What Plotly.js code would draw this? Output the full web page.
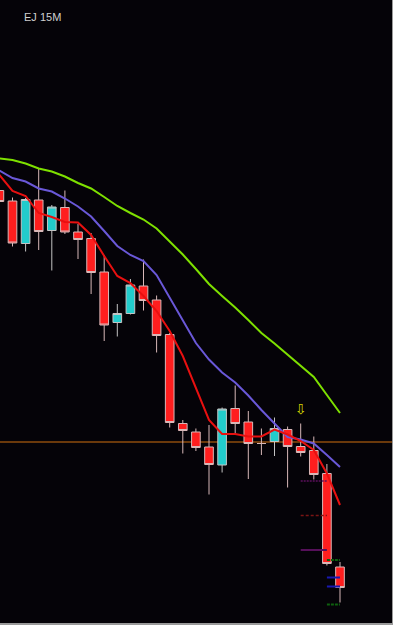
<!DOCTYPE html>
<html>
<head>
<meta charset="utf-8">
<script src="https://cdn.plot.ly/plotly-3.0.1.min.js"></script>
<style>
  html, body { margin: 0; padding: 0; background: #000; }
  #chart { width: 393px; height: 625px; }
</style>
</head>
<body>
<div id="chart"></div>
<script>
// EJ (EUR/JPY) 15-minute candles
const times = ["09:00","09:15","09:30","09:45","10:00","10:15","10:30","10:45","11:00","11:15",
               "11:30","11:45","12:00","12:15","12:30","12:45","13:00","13:15","13:30","13:45",
               "14:00","14:15","14:30","14:45","15:00","15:15","15:30"];

const openP  = [130.119,130.098,130.013,130.100,130.039,130.085,130.036,130.023,129.956,129.855,
                129.873,129.928,129.900,129.831,129.653,129.636,129.606,129.570,129.683,129.656,
                129.613,129.617,129.641,129.607,129.599,129.553,129.366];
const highP  = [130.124,130.105,130.104,130.162,130.090,130.119,130.052,130.034,129.990,129.892,
                129.942,129.981,129.909,129.834,129.660,129.643,129.650,129.685,129.729,129.678,
                129.643,129.665,129.647,129.653,129.627,129.572,129.376];
const lowP   = [130.092,130.007,129.997,130.000,129.959,130.032,129.982,129.912,129.818,129.827,
                129.871,129.879,129.795,129.645,129.593,129.598,129.511,129.555,129.633,129.542,
                129.590,129.588,129.525,129.587,129.541,129.369,129.295];
const closeP = [130.097,130.014,130.101,130.037,130.086,130.036,130.021,129.955,129.850,129.873,
                129.930,129.899,129.829,129.655,129.639,129.605,129.571,129.682,129.653,129.613,
                129.613,129.643,129.607,129.595,129.551,129.373,129.325];

// moving averages
const maFast = [130.150,130.118,130.108,130.074,130.066,130.056,130.055,130.030,129.988,129.948,
                129.934,129.908,129.878,129.838,129.788,129.723,129.660,129.632,129.632,129.627,
                129.627,129.641,129.631,129.618,129.600,129.553,129.490];
const maMid  = [130.159,130.144,130.137,130.123,130.117,130.103,130.087,130.067,130.038,130.008,
                129.990,129.978,129.950,129.905,129.860,129.814,129.781,129.755,129.735,129.709,
                129.680,129.652,129.626,129.621,129.613,129.590,129.566];
const maSlow = [130.183,130.180,130.173,130.163,130.157,130.147,130.134,130.123,130.106,130.088,
                130.074,130.061,130.043,130.018,129.991,129.962,129.932,129.908,129.885,129.860,
                129.834,129.813,129.791,129.769,129.746,129.710,129.674];

// horizontal level
const levelPrice = 129.616;

// signal arrow
const arrowTime = "14:45";
const arrowPrice = 129.680;

// short pivot levels
const pivotA_times = ["14:45","15:15"];
const pivotA_purple1 = 129.538;
const pivotA_red = 129.469;
const pivotA_purple2 = 129.400;
const pivotB_times = ["15:15","15:30"];
const pivotB_green1 = 129.380;
const pivotB_blue1 = 129.345;
const pivotB_blue2 = 129.327;
const pivotB_green2 = 129.291;

function hline(xs, p, color, dash, width) {
  return { type: 'scatter', mode: 'lines', x: xs, y: xs.map(() => p),
           line: { color: color, width: width || 1, dash: dash || 'solid' },
           hoverinfo: 'skip', showlegend: false };
}

const traces = [
  hline(pivotA_times, pivotA_purple1, '#5c105c', '2px,1px', 1.5),
  hline(pivotA_times, pivotA_red, '#7a1414', '3px,2px', 1.5),
  hline(pivotA_times, pivotA_purple2, '#56105a', 'solid', 2),
  hline(pivotB_times, pivotB_green1, '#0e600e', '3px,1px', 2),
  hline(pivotB_times, pivotB_blue1, '#1818b0', 'solid', 2),
  hline(pivotB_times, pivotB_blue2, '#1818b0', 'solid', 2),
  hline(pivotB_times, pivotB_green2, '#0e600e', '3px,1px', 2),
  {
    type: 'candlestick', x: times, open: openP, high: highP, low: lowP, close: closeP,
    increasing: { line: { color: '#c4c4c4', width: 1 }, fillcolor: '#22cccc' },
    decreasing: { line: { color: '#d8b8b8', width: 1 }, fillcolor: '#ff1e1e' },
    whiskerwidth: 0, hoverinfo: 'skip', showlegend: false
  },
  { type: 'scatter', mode: 'lines', x: times, y: maSlow, line: { color: '#7ee000', width: 2 }, hoverinfo: 'skip', showlegend: false },
  { type: 'scatter', mode: 'lines', x: times, y: maMid,  line: { color: '#6a58d8', width: 2 }, hoverinfo: 'skip', showlegend: false },
  { type: 'scatter', mode: 'lines', x: times, y: maFast, line: { color: '#e81010', width: 2 }, hoverinfo: 'skip', showlegend: false },
  { type: 'scatter', mode: 'text', x: [arrowTime], y: [arrowPrice], text: ['⇩'],
    textfont: { color: '#d8d800', size: 14, family: 'DejaVu Sans' }, textposition: 'middle center',
    hoverinfo: 'skip', showlegend: false }
];

const W = 392, H = 623;
const yTop = 130.5, pxPerUnit = 500;
const x0 = 0.6 / 13.1;

const layout = {
  width: 393, height: 625,
  margin: { l: 0, r: 1, t: 0, b: 2, pad: 0 },
  paper_bgcolor: '#9a9a9a',
  plot_bgcolor: '#050308',
  showlegend: false,
  boxgap: 0.25,
  boxgroupgap: 0.12,
  xaxis: {
    type: 'category', categoryorder: 'array', categoryarray: times,
    range: [x0, x0 + W / 13.1],
    showgrid: false, zeroline: false, showticklabels: false, ticks: '',
    rangeslider: { visible: false }, fixedrange: true
  },
  yaxis: {
    range: [yTop - H / pxPerUnit, yTop],
    showgrid: false, zeroline: false, showticklabels: false, ticks: '', fixedrange: true
  },
  shapes: [{
    type: 'line', layer: 'below', xref: 'paper', x0: 0, x1: 1, yref: 'y', y0: levelPrice, y1: levelPrice,
    line: { color: '#d2700e', width: 1 }
  }],
  annotations: [{
    xref: 'paper', yref: 'paper', x: 22 / W, y: 1 - 17 / H, xanchor: 'left', yanchor: 'middle',
    text: 'EJ 15M', showarrow: false,
    font: { family: 'Liberation Sans, Arial, sans-serif', size: 11, color: '#cfcfcf' }
  }]
};

Plotly.newPlot('chart', traces, layout, { displayModeBar: false, staticPlot: true });
</script>
</body>
</html>
